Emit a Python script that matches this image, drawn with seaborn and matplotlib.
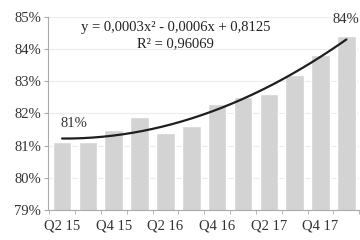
import numpy as np
import pandas as pd
import matplotlib
matplotlib.use("Agg")
import matplotlib.pyplot as plt
import seaborn as sns
from matplotlib.ticker import PercentFormatter

quarters = ["Q2 15", "Q3 15", "Q4 15", "Q1 16", "Q2 16", "Q3 16",
            "Q4 16", "Q1 17", "Q2 17", "Q3 17", "Q4 17", "Q1 18"]
values = [81.1, 81.1, 81.5, 81.9, 81.4, 81.6, 82.3, 82.5, 82.6, 83.2, 83.8, 84.4]
tick_labels = ["Q2 15", "", "Q4 15", "", "Q2 16", "", "Q4 16", "", "Q2 17", "", "Q4 17", ""]
equation = "y = 0,0003x² - 0,0006x + 0,8125"
r2_text = "R² = 0,96069"
first_label = "81%"
last_label = "84%"

sns.set_style("white")
plt.rcParams['font.family'] = ['Liberation Serif', 'DejaVu Serif']

df = pd.DataFrame({"quarter": quarters, "value": values})

fig = plt.figure(figsize=(3.6, 2.4), dpi=100)
ax = fig.add_axes([0.133, 0.125, 0.865, 0.805])

sns.barplot(data=df, x="quarter", y="value", color="#d3d3d3", width=0.72,
            ax=ax, saturation=1, zorder=2)

# polynomial trend line (order 2) fitted to the data
xi = np.arange(len(values))
coef = np.polyfit(xi + 1, values, 2)
xs = np.linspace(0, len(values) - 1, 200)
ax.plot(xs, np.polyval(coef, xs + 1), color="#1e1e1e", lw=1.6, zorder=3)

ax.set_ylim(79, 85)
ax.set_xlim(-0.55, len(values) - 0.5)
ax.yaxis.set_major_formatter(PercentFormatter(decimals=0))
ax.set_yticks(range(79, 86))
ax.set_xticks(xi)
ax.set_xticklabels(tick_labels)
ax.set_xlabel("")
ax.set_ylabel("")
ax.grid(axis="y", color="#ececec", lw=0.8, zorder=0)
ax.set_axisbelow(True)

for s in ["top", "right"]:
    ax.spines[s].set_visible(False)
for s in ["left", "bottom"]:
    ax.spines[s].set_color("#aaaaaa")
    ax.spines[s].set_linewidth(0.8)

ax.tick_params(axis="y", left=True, length=3, color="#aaaaaa", labelsize=10.5, pad=2,
               labelcolor="#333333")
ax.tick_params(axis="x", bottom=False, labelsize=10.5, pad=3, labelcolor="#333333")
# minor ticks between categories
ax.set_xticks(np.arange(-0.5, len(values), 1), minor=True)
ax.tick_params(axis="x", which="minor", bottom=True, length=3, color="#aaaaaa")

ax.text(0.45, 81.7, first_label, ha="center", va="center", fontsize=10.5, color="#333333")
ax.text(len(values) - 1, 84.93, last_label, ha="center", va="center", fontsize=10.5,
        color="#333333")
ax.text(4.4, 84.68, equation, ha="center", va="center", fontsize=10.5, color="#222222")
ax.text(4.4, 84.17, r2_text, ha="center", va="center", fontsize=10.5, color="#222222")

fig.savefig("out.png", dpi=100)
